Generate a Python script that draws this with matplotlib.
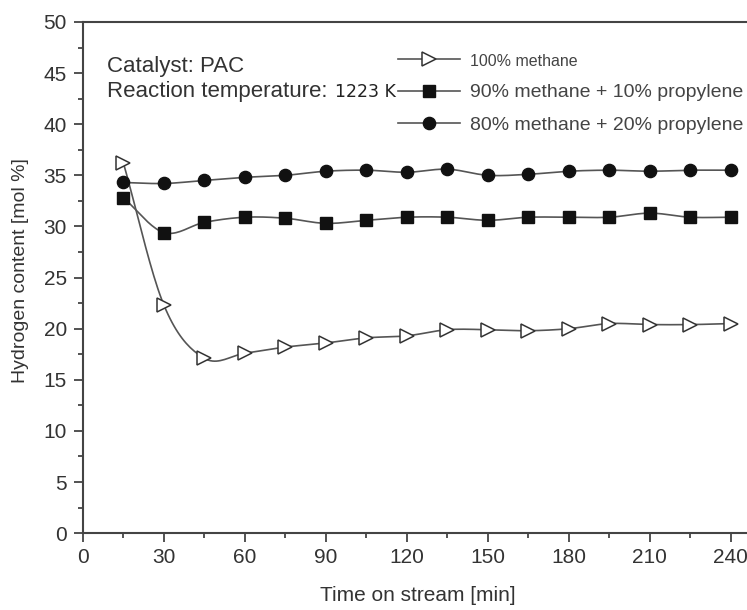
import numpy as np
import matplotlib
matplotlib.use("Agg")
import matplotlib.pyplot as plt
from matplotlib.ticker import MultipleLocator

plt.rcParams['font.family'] = ['Liberation Sans', 'DejaVu Sans']

time_min = [15, 30, 45, 60, 75, 90, 105, 120, 135, 150, 165, 180, 195, 210, 225, 240]
methane_100 = [36.2, 22.3, 17.1, 17.6, 18.2, 18.6, 19.1, 19.3, 19.9, 19.9, 19.8, 20.0, 20.5, 20.4, 20.4, 20.5]
methane_90 = [32.8, 29.4, 30.4, 30.9, 30.8, 30.3, 30.6, 30.9, 30.9, 30.6, 30.9, 30.9, 30.9, 31.3, 30.9, 30.9]
methane_80 = [34.3, 34.2, 34.5, 34.8, 35.0, 35.4, 35.5, 35.3, 35.6, 35.0, 35.1, 35.4, 35.5, 35.4, 35.5, 35.5]
labels = ['100% methane', '90% methane + 10% propylene', '80% methane + 20% propylene']

def smooth(x, y, n=20):
    # Catmull-Rom style cubic Hermite curve through the data points
    x = np.asarray(x, float); y = np.asarray(y, float)
    m = np.zeros_like(y)
    m[1:-1] = (y[2:] - y[:-2]) / (x[2:] - x[:-2])
    m[0] = (y[1] - y[0]) / (x[1] - x[0])
    m[-1] = (y[-1] - y[-2]) / (x[-1] - x[-2])
    xs, ys = [], []
    for i in range(len(x) - 1):
        h = x[i + 1] - x[i]
        t = np.linspace(0, 1, n, endpoint=False)
        h00 = 2*t**3 - 3*t**2 + 1; h10 = t**3 - 2*t**2 + t
        h01 = -2*t**3 + 3*t**2; h11 = t**3 - t**2
        xs.append(x[i] + t*h)
        ys.append(h00*y[i] + h10*h*m[i] + h01*y[i+1] + h11*h*m[i+1])
    xs.append([x[-1]]); ys.append([y[-1]])
    return np.concatenate(xs), np.concatenate(ys)

fig = plt.figure(figsize=(7.47, 6.10), dpi=100)
ax = fig.add_axes([0.111, 0.126, 0.9217, 0.838])

line_c = '#555555'
txt_c = '#333333'
styles = [dict(marker='>', mfc='white', mec='#333333', ms=9.5, mew=1.1),
          dict(marker='s', mfc='#111111', mec='#111111', ms=8.2),
          dict(marker='o', mfc='#111111', mec='#111111', ms=8.8)]
series = [methane_100, methane_90, methane_80]
handles = []
for y, st, lab in zip(series, styles, labels):
    xs, ys = smooth(time_min, y)
    ax.plot(xs, ys, color=line_c, lw=1.2, zorder=2)
    ax.plot(time_min, y, ls='none', zorder=3, **st)
    h, = ax.plot([], [], color=line_c, lw=1.2, label=lab, **st)
    handles.append(h)

ax.set_xlim(0, 255)
ax.set_ylim(0, 50)
ax.xaxis.set_major_locator(MultipleLocator(30))
ax.xaxis.set_minor_locator(MultipleLocator(15))
ax.yaxis.set_major_locator(MultipleLocator(5))
ax.yaxis.set_minor_locator(MultipleLocator(2.5))
ax.tick_params(which='both', direction='out', colors='#444444', labelcolor=txt_c, labelsize=15, width=1.3)
ax.tick_params(which='major', length=6.5)
ax.tick_params(which='minor', length=3.5)
ax.tick_params(axis='x', which='major', pad=4)
ax.tick_params(axis='y', which='major', pad=5)
for s in ax.spines.values():
    s.set_color('#444444'); s.set_linewidth(1.5)

ax.set_xlabel('Time on stream [min]', fontsize=15, color=txt_c, va='center')
ax.xaxis.set_label_coords(0.486, -0.122)
ax.set_ylabel('Hydrogen content [mol %]', fontsize=14, color=txt_c, va='center')
ax.yaxis.set_label_coords(-0.091, 0.513)

ax.text(0.035, 0.902, 'Catalyst: PAC', transform=ax.transAxes, fontsize=16, color=txt_c, va='baseline')
ax.text(0.035, 0.853, 'Reaction temperature:', transform=ax.transAxes, fontsize=16, color=txt_c, va='baseline')
ax.text(0.366, 0.853, '1223 K', transform=ax.transAxes, fontsize=12.5, color='#222222', va='baseline',
        family='DejaVu Sans')

leg = ax.legend(handles=handles, loc='center left', bbox_to_anchor=(0.4575, 0.861), frameon=False,
                fontsize=14, labelspacing=0.78, handlelength=3.2, handletextpad=0.5, borderaxespad=0,
                borderpad=0)
texts = leg.get_texts()
for t in texts:
    t.set_color('#444444')
texts[0].set_fontsize(11.5)

fig.savefig('out.png', dpi=100)
